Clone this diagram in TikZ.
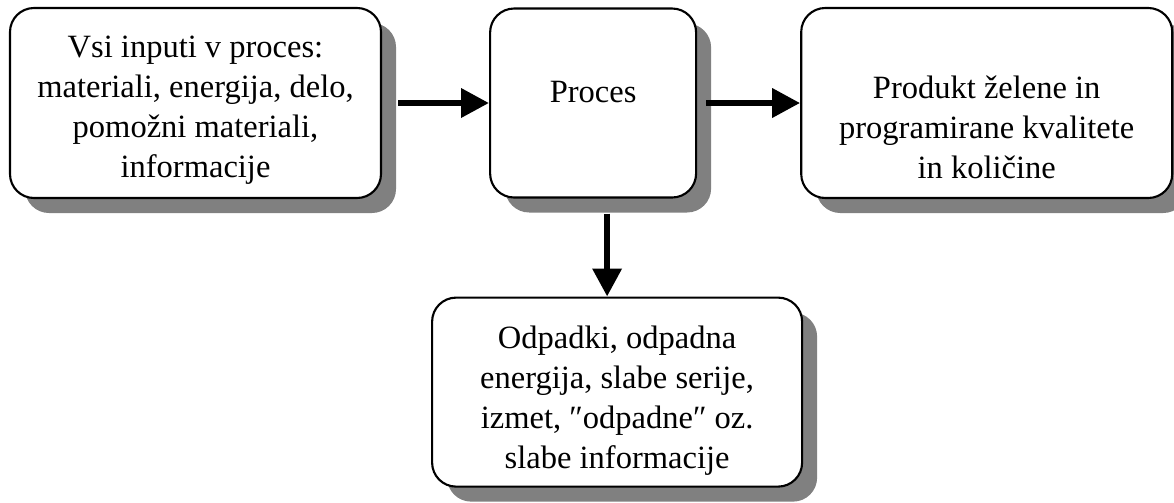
\documentclass[tikz,border=0pt]{standalone}
\usepackage{fontspec}
\setmainfont{Liberation Serif}
\usepackage{tikz}
\usetikzlibrary{arrows.meta,positioning,shadows}

\begin{document}
\begin{tikzpicture}[
    box/.style={draw, line width=1.2pt, rounded corners=0.48cm, fill=white, inner sep=0pt,
      drop shadow={shadow xshift=0.3cm, shadow yshift=-0.3cm, fill=black!50, opacity=1}},
    wide/.style={box, minimum width=7.42cm, minimum height=3.8cm},
    narrow/.style={box, minimum width=4.12cm, minimum height=3.78cm},
    txt/.style={align=center, inner sep=0pt, font=\fontsize{18.5}{22.8}\selectfont},
    arrow/.style={-{Triangle[length=0.56cm, width=0.56cm]}, line width=0.13cm}
  ]
    \useasboundingbox (0,0) rectangle (23.48,-10.04);
    \node[wide] (inp) at (3.91,-2.06) {};
    \node[narrow, right=2.14cm of inp] (proc) {};
    \node[wide, right=2.06cm of proc] (out) {};
    \node[wide, minimum width=7.4cm, minimum height=3.78cm, below=1.96cm of proc, xshift=0.48cm] (waste) {};
    \node[txt] (inptext) at ([yshift=-0.15cm]inp.center) {Vsi inputi v proces:\\materiali, energija, delo,\\pomožni materiali,\\informacije};
    \node[txt] (proctext) at ([yshift=0.22cm]proc.center) {Proces};
    \node[txt] (outtext) at ([yshift=-0.48cm]out.center) {Produkt želene in\\programirane kvalitete\\in količine};
    \node[txt] (wastetext) at ([yshift=-0.17cm]waste.center) {Odpadki, odpadna\\energija, slabe serije,\\izmet, ″odpadne″ oz.\\slabe informacije};
    \coordinate (drop) at ([xshift=0.28cm, yshift=-0.3cm]proc.south);
    \draw[arrow] ([xshift=0.32cm]inp.east) -- (proc.west);
    \draw[arrow] ([xshift=0.18cm]proc.east) -- (out.west);
    \draw[arrow] (drop) -- (drop |- waste.north);
  \end{tikzpicture}
\end{document}
